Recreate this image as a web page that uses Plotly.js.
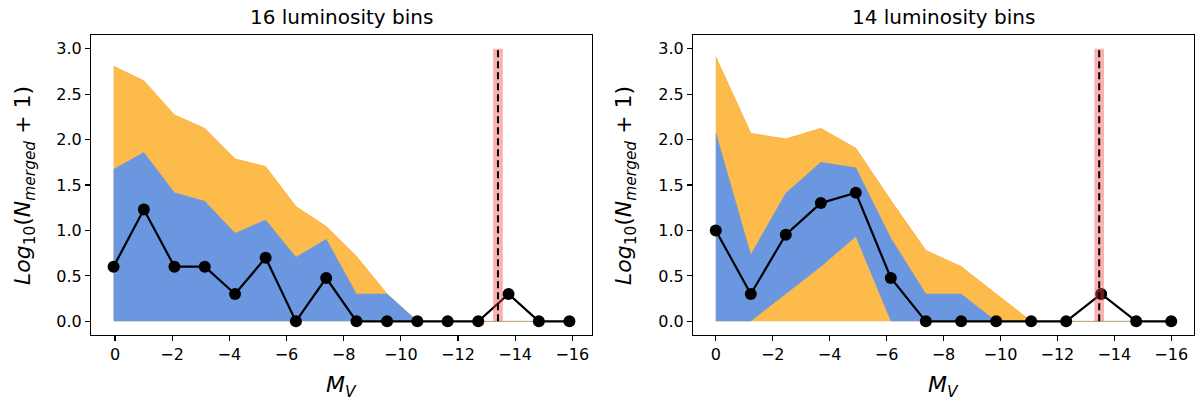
<!DOCTYPE html>
<html>
<head>
<meta charset="utf-8">
<script src="https://cdn.plot.ly/plotly-3.0.1.min.js"></script>
<style>html,body{margin:0;padding:0;background:#fff;}#chart{width:1203px;height:403px;}</style>
</head>
<body>
<div id="chart"></div>
<script>
// ---- data: left panel (16 luminosity bins) ----
const mvLeft = [0.05, -1.01, -2.08, -3.14, -4.20, -5.27, -6.33, -7.39, -8.45, -9.52, -10.58, -11.64, -12.71, -13.77, -14.83, -15.90];
const observedLeft = [0.602, 1.230, 0.602, 0.602, 0.301, 0.699, 0, 0.477, 0, 0, 0, 0, 0, 0.301, 0, 0];
const outerLowLeft = [0, 0, 0, 0, 0, 0, 0, 0, 0, 0, 0, 0, 0, 0, 0, 0];
const outerHighLeft = [2.806, 2.645, 2.269, 2.122, 1.786, 1.701, 1.262, 1.043, 0.713, 0.301, 0, 0, 0, 0, 0, 0];
const innerLowLeft = [0, 0, 0, 0, 0, 0, 0, 0, 0, 0, 0, 0, 0, 0, 0, 0];
const innerHighLeft = [1.672, 1.857, 1.415, 1.322, 0.970, 1.114, 0.705, 0.903, 0.301, 0.301, 0, 0, 0, 0, 0, 0];

// ---- data: right panel (14 luminosity bins) ----
const mvRight = [0, -1.23, -2.46, -3.69, -4.92, -6.15, -7.38, -8.62, -9.85, -11.08, -12.31, -13.54, -14.77, -16.0];
const observedRight = [1.0, 0.301, 0.954, 1.301, 1.415, 0.477, 0, 0, 0, 0, 0, 0.301, 0, 0];
const outerLowRight = [0, 0, 0, 0, 0, 0, 0, 0, 0, 0, 0, 0, 0, 0];
const outerHighRight = [2.909, 2.067, 2.005, 2.122, 1.903, 1.330, 0.779, 0.602, 0.301, 0, 0, 0, 0, 0];
const innerLowRight = [0, 0, 0.301, 0.602, 0.930, 0, 0, 0, 0, 0, 0, 0, 0, 0];
const innerHighRight = [2.075, 0.732, 1.409, 1.749, 1.690, 0.915, 0.301, 0.301, 0, 0, 0, 0, 0, 0];

// ---- reference marker ----
const markerMv = [-13.40, -13.47];
const markerSpan = [0, 3.0];

const panelTitles = ["16 luminosity bins", "14 luminosity bins"];
const xTicks = [0, -2, -4, -6, -8, -10, -12, -14, -16];
const yTicks = [0, 0.5, 1.0, 1.5, 2.0, 2.5, 3.0];

// ---- styles ----
const ORANGE = '#FDBB4C', ORANGE_EDGE = '#FCB23E';
const BLUE = '#6A97E0', BLUE_EDGE = '#6A97E0';
const FONT = 'DejaVu Sans, sans-serif';

function panel(xs, obs, oLow, oHigh, iLow, iHigh, xa, ya) {
  return [
    {x: xs, y: oLow, xaxis: xa, yaxis: ya, mode: 'lines', line: {width: 0, color: ORANGE}, hoverinfo: 'skip', showlegend: false},
    {x: xs, y: oHigh, xaxis: xa, yaxis: ya, mode: 'lines', fill: 'tonexty', fillcolor: ORANGE, line: {width: 1, color: ORANGE_EDGE}, showlegend: false},
    {x: xs, y: iLow, xaxis: xa, yaxis: ya, mode: 'lines', line: {width: 0, color: BLUE}, hoverinfo: 'skip', showlegend: false},
    {x: xs, y: iHigh, xaxis: xa, yaxis: ya, mode: 'lines', fill: 'tonexty', fillcolor: BLUE, line: {width: 0.5, color: BLUE_EDGE}, showlegend: false},
    {x: xs, y: obs, xaxis: xa, yaxis: ya, mode: 'lines+markers', line: {width: 2.2, color: '#000'}, marker: {size: 12, color: '#000'}, showlegend: false}
  ];
}

const data = [].concat(
  panel(mvLeft, observedLeft, outerLowLeft, outerHighLeft, innerLowLeft, innerHighLeft, 'x', 'y'),
  panel(mvRight, observedRight, outerLowRight, outerHighRight, innerLowRight, innerHighRight, 'x2', 'y2')
);

function xax(domain, range) {
  return {domain: domain, range: range, tickvals: xTicks, ticktext: xTicks.map(v => v === 0 ? '0' : '\u2212' + Math.abs(v)),
    ticks: 'outside', ticklen: 5, tickwidth: 1.1, tickcolor: '#000', showline: true, mirror: true, linecolor: '#000', linewidth: 1.1,
    showgrid: false, zeroline: false, tickfont: {family: FONT, size: 16, color: '#000'}};
}
function yax(domain, anchor) {
  return {domain: domain, anchor: anchor, range: [-0.15, 3.15], tickvals: yTicks, tickformat: '.1f',
    ticks: 'outside', ticklen: 5, tickwidth: 1.1, tickcolor: '#000', showline: true, mirror: true, linecolor: '#000', linewidth: 1.1,
    showgrid: false, zeroline: false, tickfont: {family: FONT, size: 16, color: '#000'}};
}

const shapes = [];
[['x', 'y'], ['x2', 'y2']].forEach((ax, k) => {
  const v = markerMv[k];
  shapes.push({type: 'rect', xref: ax[0], yref: ax[1], x0: v - 0.17, x1: v + 0.17, y0: markerSpan[0], y1: markerSpan[1],
    fillcolor: 'rgba(240,70,70,0.42)', line: {width: 0}, layer: 'above'});
  shapes.push({type: 'line', xref: ax[0], yref: ax[1], x0: v, x1: v, y0: markerSpan[0], y1: markerSpan[1],
    line: {color: '#000', width: 2, dash: '7px,4px'}, layer: 'above'});
});

const W = 1203, H = 403;
const ylabel = '<i>Log</i><sub>10</sub>(<i>N</i><sub><i>merged</i></sub> + 1)';
const xlabel = '<i>M</i><sub><i>V</i></sub>';
const annotations = [
  {text: panelTitles[0], x: (91 + 592) / 2 / W, y: 1 - 17 / H},
  {text: panelTitles[1], x: (693 + 1194) / 2 / W, y: 1 - 17 / H},
].map(a => Object.assign(a, {xref: 'paper', yref: 'paper', xanchor: 'center', yanchor: 'middle', showarrow: false, font: {family: FONT, size: 20, color: '#000'}}))
.concat([
  {text: ylabel, x: 24 / W, y: 1 - 186 / H, textangle: -90},
  {text: ylabel, x: 625 / W, y: 1 - 186 / H, textangle: -90},
  {text: xlabel, x: (91 + 592) / 2 / W, y: 1 - 386 / H},
  {text: xlabel, x: (693 + 1194) / 2 / W, y: 1 - 386 / H},
].map(a => Object.assign(a, {xref: 'paper', yref: 'paper', xanchor: 'center', yanchor: 'middle', showarrow: false, font: {family: FONT, size: 22, color: '#000'}})));

const layout = {
  width: W, height: H, margin: {l: 0, r: 0, t: 0, b: 0},
  paper_bgcolor: '#fff', plot_bgcolor: '#fff', showlegend: false,
  xaxis: xax([91 / W, 592 / W], [0.84, -16.69]),
  yaxis: yax([1 - 335 / H, 1 - 35 / H], 'x'),
  xaxis2: Object.assign(xax([693 / W, 1194 / W], [0.80, -16.80]), {anchor: 'y2'}),
  yaxis2: yax([1 - 335 / H, 1 - 35 / H], 'x2'),
  shapes: shapes, annotations: annotations
};
layout.xaxis.anchor = 'y';

Plotly.newPlot('chart', data, layout, {staticPlot: true, displayModeBar: false});
</script>
</body>
</html>
